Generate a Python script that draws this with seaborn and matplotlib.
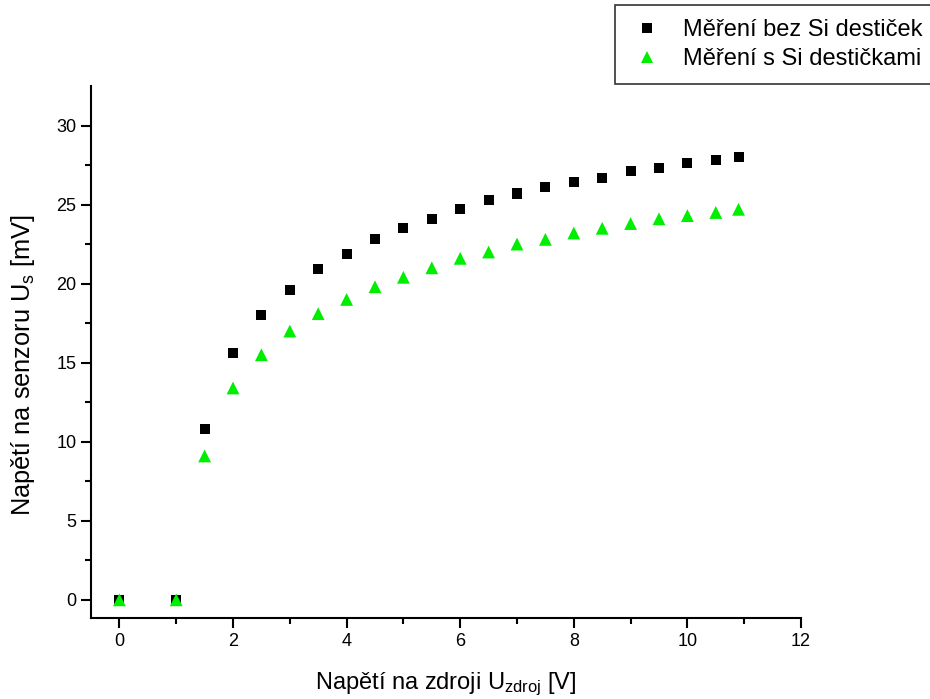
import matplotlib
matplotlib.use("Agg")
import matplotlib.pyplot as plt
import seaborn as sns
import pandas as pd
import numpy as np

x_vals = [0, 1, 1.5, 2, 2.5, 3, 3.5, 4, 4.5, 5, 5.5, 6, 6.5, 7, 7.5, 8, 8.5, 9, 9.5, 10, 10.5, 10.9]
bez_si = [0, 0, 10.8, 15.6, 18.0, 19.6, 20.9, 21.9, 22.8, 23.5, 24.1, 24.7, 25.3, 25.7, 26.1, 26.4, 26.7, 27.1, 27.3, 27.6, 27.8, 28.0]
s_si = [0, 0, 9.1, 13.4, 15.5, 17.0, 18.1, 19.0, 19.8, 20.4, 21.0, 21.6, 22.0, 22.5, 22.8, 23.2, 23.5, 23.8, 24.1, 24.3, 24.5, 24.7]
series_names = ["Měření bez Si destiček", "Měření s Si destičkami"]

sns.set_style("ticks")
plt.rcParams["font.family"] = ["Liberation Sans", "DejaVu Sans"]
plt.rcParams["mathtext.fontset"] = "custom"
plt.rcParams["mathtext.rm"] = "Liberation Sans"
plt.rcParams["mathtext.it"] = "Liberation Sans:italic"
plt.rcParams["text.color"] = "black"
plt.rcParams["axes.labelcolor"] = "black"
plt.rcParams["xtick.color"] = "black"
plt.rcParams["ytick.color"] = "black"

df = pd.DataFrame({
    "x": x_vals * 2,
    "y": bez_si + s_si,
    "serie": [series_names[0]] * len(x_vals) + [series_names[1]] * len(x_vals),
})

fig = plt.figure(figsize=(9.3, 6.99), dpi=100)
ax = fig.add_axes([91/930, 1 - 618/699, (801 - 91)/930, (618 - 86)/699])

sns.scatterplot(data=df, x="x", y="y", hue="serie", style="serie", size="serie",
                palette={series_names[0]: "black", series_names[1]: "#00ee00"},
                markers={series_names[0]: "s", series_names[1]: "^"},
                sizes={series_names[0]: 52, series_names[1]: 85},
                linewidth=0, ax=ax, legend=True, zorder=3)

ax.set_xlim(-0.5, 12)
ax.set_ylim(-1.15, 32.5)
ax.set_xticks(np.arange(0, 13, 2))
ax.set_xticks(np.arange(0, 13, 1), minor=True)
ax.set_yticks(np.arange(0, 31, 5))
ax.set_yticks(np.arange(0, 32.5, 2.5), minor=True)
ax.tick_params(axis="both", which="major", direction="out", length=7, width=1.5, labelsize=13, color="black", labelcolor="black")
ax.tick_params(axis="both", which="minor", direction="out", length=4, width=1.5, color="black")
for sp in ["top", "right"]:
    ax.spines[sp].set_visible(False)
for sp in ["left", "bottom"]:
    ax.spines[sp].set_linewidth(1.5)
    ax.spines[sp].set_color("black")

ax.set_xlabel(r"Napětí na zdroji U$_{\mathrm{zdroj}}$ [V]", fontsize=17, labelpad=15, color="black")
ax.set_ylabel(r"Napětí na senzoru U$_{\mathrm{s}}$ [mV]", fontsize=18.3, color="black")
ax.yaxis.set_label_coords(-0.076, 0.475)

handles, labels = ax.get_legend_handles_labels()
ax.get_legend().remove()
leg = fig.legend(handles, labels, loc="upper left", bbox_to_anchor=(615/930, 1 - 5/699),
                 borderaxespad=0, fontsize=17, frameon=True, fancybox=False, edgecolor="black",
                 handlelength=1.5, handletextpad=0.8, borderpad=0.6, labelspacing=0.3,
                 markerscale=1.0, labelcolor="black")
leg.get_frame().set_linewidth(1.2)

fig.savefig("out.png", dpi=100)
